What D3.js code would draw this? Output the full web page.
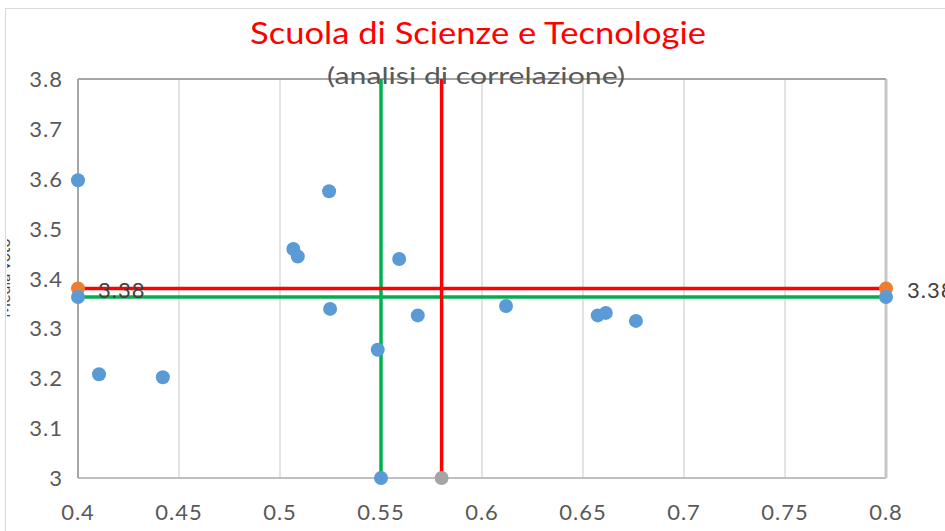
<!DOCTYPE html>
<html>
<head>
<meta charset="utf-8">
<script src="https://cdn.jsdelivr.net/npm/d3@7"></script>
<style>
  body { margin: 0; background: #fff; }
  svg { font-family: Lato, "Open Sans", sans-serif; }
</style>
</head>
<body>
<svg class="chart"></svg>
<script>
// values
var pointX = [0.4, 0.4104, 0.442, 0.5066, 0.5088, 0.5243, 0.5248, 0.5484, 0.559, 0.5682, 0.6119, 0.6573, 0.6613, 0.6762];
var pointY = [3.597, 3.208, 3.202, 3.459, 3.444, 3.575, 3.339, 3.257, 3.439, 3.326, 3.345, 3.326, 3.331, 3.315];
var greenMeanX = 0.55, greenMeanY = 3.363;
var redMeanX = 0.58, redMeanY = 3.38;
var xTicks = [0.4, 0.45, 0.5, 0.55, 0.6, 0.65, 0.7, 0.75, 0.8];
var yTicks = [3, 3.1, 3.2, 3.3, 3.4, 3.5, 3.6, 3.7, 3.8];
var titleText = "Scuola di Scienze e Tecnologie";
var subtitleText = "(analisi di correlazione)";
var yTitleText = "Media voto";

var W = 945, H = 531;
var svg = d3.select(".chart").attr("width", W).attr("height", H);

// the original shows only a sliver of the y title at the left edge
svg.append("clipPath").attr("id", "frame")
  .append("rect").attr("x", 7).attr("y", 9).attr("width", W).attr("height", H);

// chart frame
svg.append("rect").attr("x", 5.5).attr("y", 8.5).attr("width", W).attr("height", H)
    .attr("fill", "#fff").attr("stroke", "#d9d9d9");

var x = d3.scaleLinear().domain([0.4, 0.8]).range([78, 886]);
var y = d3.scaleLinear().domain([3, 3.8]).range([478, 79]);

// vertical gridlines
svg.selectAll(".grid").data(xTicks.slice(1)).enter().append("line")
    .attr("x1", d => x(d)).attr("x2", d => x(d))
    .attr("y1", y(3.8)).attr("y2", y(3))
    .attr("stroke", d => d === 0.8 ? "#c8c8c8" : "#e3e3e3")
    .attr("stroke-width", d => d === 0.8 ? 3 : 2);

// top line at 3.8
svg.append("line").attr("x1", x(0.4)).attr("x2", x(0.8))
    .attr("y1", y(3.8)).attr("y2", y(3.8))
    .attr("stroke", "#a6a6a6").attr("stroke-width", 2);

// axes lines
svg.append("line").attr("x1", x(0.4)).attr("x2", x(0.8))
    .attr("y1", y(3)).attr("y2", y(3))
    .attr("stroke", "#bfbfbf").attr("stroke-width", 2);
svg.append("line").attr("x1", x(0.4)).attr("x2", x(0.4))
    .attr("y1", y(3.8)).attr("y2", y(3))
    .attr("stroke", "#a6a6a6").attr("stroke-width", 2);

// tick labels
svg.selectAll(".ylab").data(yTicks).enter().append("text")
    .attr("x", 63).attr("y", d => y(d) + 8)
    .attr("text-anchor", "end").attr("font-size", 22).attr("letter-spacing", 1)
    .attr("fill", "#595959")
    .text(d => d3.format("~g")(d));
svg.selectAll(".xlab").data(xTicks).enter().append("text")
    .attr("x", d => x(d)).attr("y", 520)
    .attr("text-anchor", "middle").attr("font-size", 22).attr("letter-spacing", 1)
    .attr("fill", "#595959")
    .text(d => d3.format("~g")(d));

// y axis title, clipped by the chart frame as in the original
svg.append("g").attr("clip-path", "url(#frame)")
  .append("text")
    .attr("transform", "translate(10,278) rotate(-90)")
    .attr("text-anchor", "middle").attr("font-size", 16).attr("fill", "#404040")
    .text(yTitleText);

// titles
svg.append("text").attr("x", 478).attr("y", 44).attr("text-anchor", "middle")
    .attr("font-size", 31).attr("textLength", 456).attr("lengthAdjust", "spacingAndGlyphs")
    .attr("fill", "#ff0000").text(titleText);

// mean lines
var lines = [
  {mx: greenMeanX, my: greenMeanY, c: "#00b050"},
  {mx: redMeanX, my: redMeanY, c: "#ff0000"}
];
lines.forEach(function(l) {
  svg.append("line").attr("x1", x(0.4)).attr("x2", x(0.8))
      .attr("y1", y(l.my)).attr("y2", y(l.my))
      .attr("stroke", l.c).attr("stroke-width", 3.5);
  svg.append("line").attr("x1", x(l.mx)).attr("x2", x(l.mx))
      .attr("y1", y(3)).attr("y2", y(3.8))
      .attr("stroke", l.c).attr("stroke-width", 3.5);
});

svg.append("text").attr("x", 476).attr("y", 84).attr("text-anchor", "middle")
    .attr("font-size", 24).attr("textLength", 298).attr("lengthAdjust", "spacingAndGlyphs")
    .attr("fill", "#595959").text(subtitleText);

// end markers of mean lines
var ends = [
  {x: 0.4, y: redMeanY, c: "#ed7d31"},
  {x: 0.8, y: redMeanY, c: "#ed7d31"},
  {x: 0.4, y: greenMeanY, c: "#5b9bd5"},
  {x: 0.8, y: greenMeanY, c: "#5b9bd5"},
  {x: greenMeanX, y: 3, c: "#5b9bd5"},
  {x: redMeanX, y: 3, c: "#a5a5a5"}
];
svg.selectAll(".end").data(ends).enter().append("circle")
    .attr("cx", d => x(d.x)).attr("cy", d => y(d.y)).attr("r", 7)
    .attr("fill", d => d.c);

// data points
svg.selectAll(".pt").data(pointX).enter().append("circle")
    .attr("cx", d => x(d)).attr("cy", (d, i) => y(pointY[i])).attr("r", 7)
    .attr("fill", "#5b9bd5");

// data labels
svg.append("text").attr("x", x(0.4) + 20).attr("y", y(redMeanY) + 10)
    .attr("font-size", 22).attr("letter-spacing", 1)
    .attr("fill", "#404040").text(redMeanY.toFixed(2));
svg.append("text").attr("x", x(0.8) + 21).attr("y", y(redMeanY) + 10)
    .attr("font-size", 22).attr("letter-spacing", 1)
    .attr("fill", "#404040").text(redMeanY.toFixed(2));
</script>
</body>
</html>
